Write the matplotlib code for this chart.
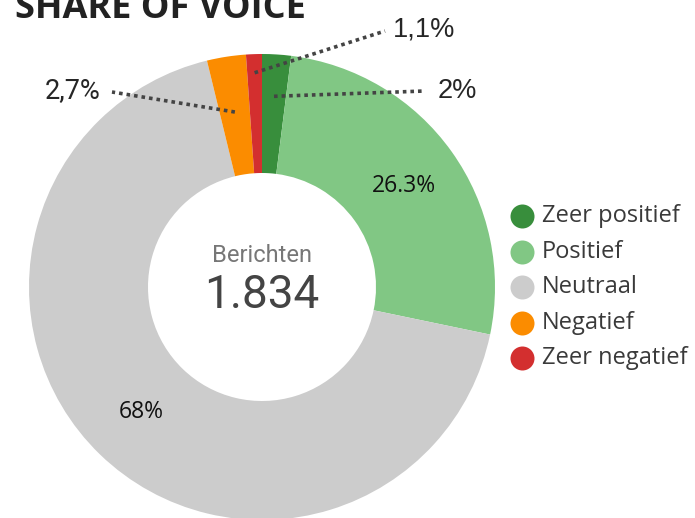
import numpy as np
import matplotlib
matplotlib.use("Agg")
import matplotlib.pyplot as plt

# ---- data ----
categories = ["Zeer positief", "Positief", "Neutraal", "Negatief", "Zeer negatief"]
values = [2.0, 26.3, 68.0, 2.7, 1.1]
colors = ["#388e3c", "#81c784", "#cccccc", "#fb8c00", "#d32f2f"]
inside_labels = {1: "26.3%", 2: "68%"}
callout_labels = {0: "2%", 3: "2,7%", 4: "1,1%"}
center_title = "Berichten"
center_value = "1.834"
title = "SHARE OF VOICE"

W, H = 695, 518
fig = plt.figure(figsize=(W / 100, H / 100), dpi=100)
ax = fig.add_axes([0, 0, 1, 1])

cx, cy = 262, H - 287
R = 233
ring = 119

wedges, _ = ax.pie(values, colors=colors, startangle=90, counterclock=False,
                   center=(cx, cy), radius=R,
                   wedgeprops=dict(width=ring, linewidth=0))
ax.set_xlim(0, W)
ax.set_ylim(0, H)
ax.set_aspect("equal")
ax.axis("off")

def mid_point(w, frac):
    ang = np.deg2rad((w.theta1 + w.theta2) / 2)
    return cx + R * frac * np.cos(ang), cy + R * frac * np.sin(ang)

# inside labels
for i, txt in inside_labels.items():
    x, y = mid_point(wedges[i], 0.747)
    ax.text(x, y, txt, ha="center", va="center", fontsize=16.5,
            family="Open Sans", color="#111111")

# callout labels with dotted leaders
callout_cfg = {
    0: dict(frac=0.82, end=(425, H - 91), text=(438, H - 98), size=19.5,
            fam="Liberation Sans", ha="left"),
    4: dict(frac=0.92, end=(385, H - 31), text=(393, H - 37), size=19.5,
            fam="Liberation Sans", ha="left"),
    3: dict(frac=0.76, end=(112, H - 92), text=(101, H - 98), size=19.5,
            fam="Roboto", ha="right"),
}
for i, txt in callout_labels.items():
    c = callout_cfg[i]
    x0, y0 = mid_point(wedges[i], c["frac"])
    ex, ey = c["end"]
    ax.plot([x0, ex], [y0, ey], color="#444444", lw=2.6,
            dashes=(1, 1.1), dash_capstyle="butt", solid_capstyle="butt")
    ax.text(c["text"][0], c["text"][1], txt, ha=c["ha"], va="baseline",
            fontsize=c["size"], family=c["fam"], color="#262626")

# center text
ax.text(cx, H - 255, center_title, ha="center", va="center", fontsize=17,
        family="Roboto", color="#777777")
ax.text(cx, H - 295, center_value, ha="center", va="center", fontsize=33,
        family="Roboto", color="#444444")

# legend
leg_x, leg_y0, leg_dy = 522, 216, 35.6
for k, (lab, col) in enumerate(zip(categories, colors)):
    yy = H - (leg_y0 + k * leg_dy)
    ax.scatter([leg_x], [yy], s=(24 * 0.72) ** 2, color=col, linewidths=0)
    ax.text(leg_x + 20, yy, lab, ha="left", va="center", fontsize=17,
            family="Open Sans", color="#3a3a3a")

# title
fig.text(15 / W, 1 - 18 / H, title, ha="left", va="baseline", fontsize=26,
         family="Open Sans", fontweight="bold", color="#222222")

fig.savefig("out.png", dpi=100)
